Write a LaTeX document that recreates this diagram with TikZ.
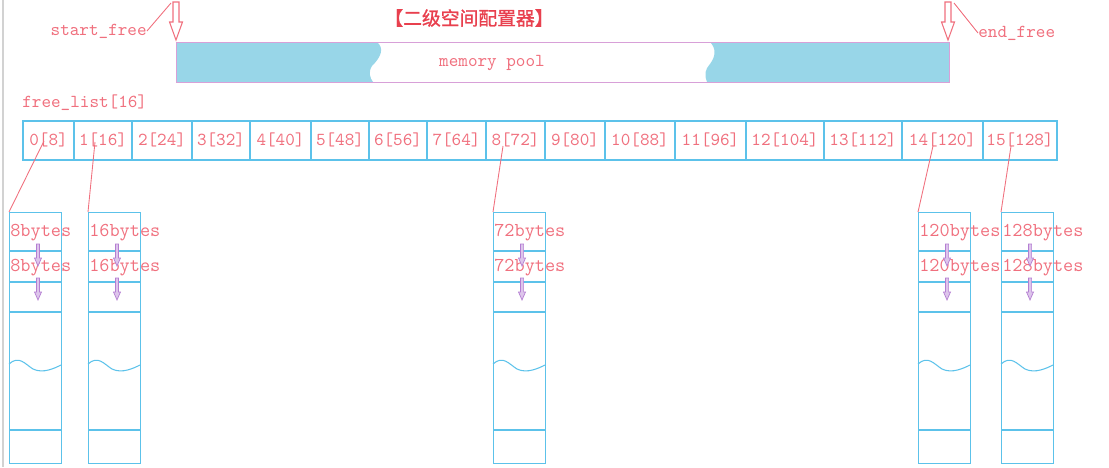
\documentclass[tikz,border=0pt]{standalone}
\usepackage{fontspec}
\newfontfamily\cjk{Noto Sans CJK SC}[FakeBold=1.2]
\usepackage{xcolor}
\usetikzlibrary{calc,positioning}
\definecolor{txtred}{HTML}{F0707E}
\definecolor{titlered}{HTML}{E8404E}
\definecolor{lineblue}{HTML}{5CC2EA}
\definecolor{poolblue}{HTML}{98D6E8}
\definecolor{poolline}{HTML}{D8A0D8}
\definecolor{linkviolet}{HTML}{B47ED2}

\begin{document}
\begin{tikzpicture}[x=0.02cm,y=-0.02cm,
  lbl/.style={font=\fontsize{10.4}{12}\ttfamily, text=txtred, inner sep=0pt},
  bytelbl/.style={font=\fontsize{11.2}{13}\ttfamily, text=txtred, inner sep=0pt, anchor=west},
  blue line/.style={lineblue, line width=0.6pt},
  ptr/.style={txtred, line width=0.5pt},
  bigarrow/.pic={\draw[txtred, line width=0.6pt, fill=white] (-3,0) -- (-3,20) -- (-6.5,20) -- (0,38) -- (6.5,20) -- (3,20) -- (3,0) -- cycle;},
  link/.pic={\draw[linkviolet, line width=0.4pt, fill=linkviolet!45] (-1.6,0) -- (-1.6,14) -- (-3.5,14) -- (0,22) -- (3.5,14) -- (1.6,14) -- (1.6,0) -- cycle;}]
\useasboundingbox (0,0) rectangle (1109,467);
\draw[gray!35, line width=1pt] (3,0) -- (3,467);

\node[text=titlered, font=\fontsize{10.7}{12}\cjk, inner sep=0pt] (title) at (469,18) {【二级空间配置器】};

% memory pool
\fill[poolblue] (176,42) -- (377,42) .. controls (384,48) and (382,56) .. (372,66) .. controls (368,72) and (370,78) .. (373,82) -- (176,82) -- cycle;
\fill[poolblue] (710,42) -- (949,42) -- (949,82) -- (707,82) .. controls (704,74) and (705,70) .. (710,64) .. controls (716,56) and (716,48) .. (710,42) -- cycle;
\node[draw=poolline, line width=0.8pt, minimum width=15.46cm, minimum height=0.8cm, inner sep=0pt, anchor=north west] (pool) at (176,42) {};
\node[lbl] (poollbl) at (492,63) {memory pool};

\pic at (176,2) {bigarrow};
\pic at (948,2) {bigarrow};
\node[lbl, anchor=east] (startlbl) at (147,31) {start\_free};
\node[lbl, anchor=west] (endlbl) at (978,33) {end\_free};
\coordinate (sftop) at (171,3);
\coordinate (eftop) at (954,3);
\draw[ptr] (startlbl.east) -- (sftop);
\draw[ptr] (eftop) -- (endlbl.west);

% free list
\node[lbl, anchor=west] (fl) at (22,103) {free\_list[16]};
\foreach \a/\b/\txt [count=\i from 0] in {23/74/{0[8]}, 74/132/{1[16]}, 132/192/{2[24]}, 192/250/{3[32]}, 250/311/{4[40]}, 311/369/{5[48]}, 369/427/{6[56]}, 427/486/{7[64]}, 486/545/{8[72]}, 545/605/{9[80]}, 605/675/{10[88]}, 675/746/{11[96]}, 746/824/{12[104]}, 824/902/{13[112]}, 902/983/{14[120]}, 983/1057/{15[128]}} {
  \draw[blue line] (\a,121) rectangle (\b,160);
  \node[lbl] (c\i) at ({(\a+\b)/2},140) {\txt};
}

% chunk lists
\foreach \x/\sz/\sx/\sy in {9/8/44/141, 88/16/95/142, 493/72/503/146, 918/120/933/146, 1001/128/1011/146} {
  \node[draw=lineblue, line width=0.6pt, minimum width=1.04cm, minimum height=5.02cm, inner sep=0pt, anchor=north west] (blk\sz) at (\x,212) {};
  \draw[blue line] (\x,251) -- +(52,0) (\x,282) -- +(52,0) (\x,312) -- +(52,0) (\x,430) -- +(52,0);
  \draw[blue line] (\x,364) .. controls (\x+10,355) and (\x+16,364) .. (\x+24,369) .. controls (\x+34,374) and (\x+46,368) .. (\x+52,365);
  \coordinate (s\sz) at (\sx,\sy);
  \draw[ptr] (s\sz) -- (blk\sz.north west);
  \node[bytelbl] (first\sz) at (\x+1,233) {\sz bytes};
  \node[bytelbl] (second\sz) at (\x+1,268) {\sz bytes};
  \pic at (\x+29,244) {link};
  \pic at (\x+29,278) {link};
}
\end{tikzpicture}
\end{document}
